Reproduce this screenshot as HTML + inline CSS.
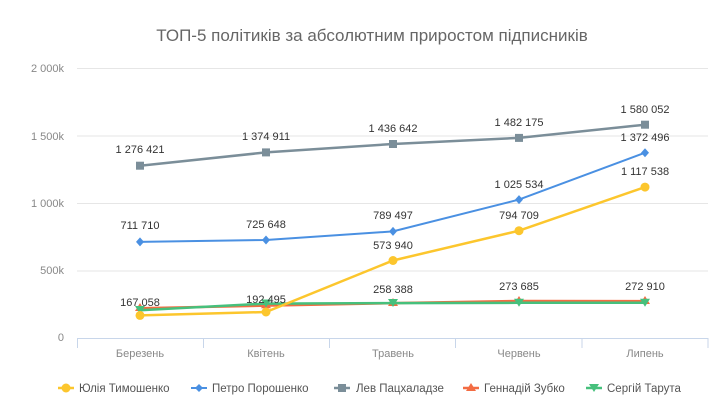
<!DOCTYPE html>
<html><head><meta charset="utf-8"><style>
html,body{margin:0;padding:0;background:#fff;width:727px;height:412px;overflow:hidden}
svg{display:block;font-family:"Liberation Sans",sans-serif}
</style></head><body>
<svg width="727" height="412" viewBox="0 0 727 412">
<text x="372" y="41" text-anchor="middle" font-size="17" fill="#666">ТОП-5 політиків за абсолютним приростом підписників</text>
<g stroke="#e6e6e6" stroke-width="1">
<line x1="77" x2="708" y1="68.5" y2="68.5"/>
<line x1="77" x2="708" y1="136" y2="136"/>
<line x1="77" x2="708" y1="203.5" y2="203.5"/>
<line x1="77" x2="708" y1="271" y2="271"/>
</g>
<g stroke="#c8d6ea" stroke-width="1">
<line x1="77" x2="708" y1="338.5" y2="338.5"/>
<line x1="77.5" x2="77.5" y1="338" y2="348"/>
<line x1="203.5" x2="203.5" y1="338" y2="348"/>
<line x1="329.5" x2="329.5" y1="338" y2="348"/>
<line x1="455.5" x2="455.5" y1="338" y2="348"/>
<line x1="582" x2="582" y1="338" y2="348"/>
<line x1="708" x2="708" y1="338" y2="348"/>
</g>
<g font-size="11" fill="#888" text-anchor="end">
<text x="64" y="72">2 000k</text>
<text x="64" y="140">1 500k</text>
<text x="64" y="207">1 000k</text>
<text x="64" y="274">500k</text>
<text x="64" y="341">0</text>
</g>
<g font-size="11" fill="#888" text-anchor="middle">
<text x="140" y="357">Березень</text>
<text x="266" y="357">Квітень</text>
<text x="393" y="357">Травень</text>
<text x="519" y="357">Червень</text>
<text x="645" y="357">Липень</text>
</g>
<!-- Lev -->
<polyline fill="none" stroke="#7b8e99" stroke-width="2.5" points="140,165.7 266,152.4 393,144 519,137.9 645,124.7"/>
<g fill="#7b8e99"><rect x="136" y="161.7" width="8" height="8"/><rect x="262" y="148.4" width="8" height="8"/><rect x="389" y="140" width="8" height="8"/><rect x="515" y="133.9" width="8" height="8"/><rect x="641" y="120.7" width="8" height="8"/></g>
<!-- Poroshenko -->
<polyline fill="none" stroke="#4a90e2" stroke-width="2" points="140,241.9 266,240 393,231.4 519,199.6 645,152.7"/>
<g fill="#4a90e2"><path d="M140,237.4l4,4.5l-4,4.5l-4,-4.5z"/><path d="M266,235.5l4,4.5l-4,4.5l-4,-4.5z"/><path d="M393,226.9l4,4.5l-4,4.5l-4,-4.5z"/><path d="M519,195.1l4,4.5l-4,4.5l-4,-4.5z"/><path d="M645,148.2l4,4.5l-4,4.5l-4,-4.5z"/></g>
<!-- Zubko -->
<polyline fill="none" stroke="#f36c43" stroke-width="2.5" points="140,308.3 266,305.6 393,303.1 519,301 645,301.1"/>
<g fill="#f36c43"><path d="M140,303l5,8h-10z"/><path d="M266,300.3l5,8h-10z"/><path d="M393,298l5,8h-10z"/><path d="M519,296l5,8h-10z"/><path d="M645,296l5,8h-10z"/></g>
<!-- Taruta -->
<polyline fill="none" stroke="#46c07c" stroke-width="2.5" points="140,310.3 266,303.6 393,303.1 519,302.8 645,302.8"/>
<g fill="#46c07c"><path d="M135,306h10l-5,8z"/><path d="M261,299.5h10l-5,8z"/><path d="M388,299h10l-5,8z"/><path d="M514,298.7h10l-5,8z"/><path d="M640,298.7h10l-5,8z"/></g>
<!-- Yulia -->
<polyline fill="none" stroke="#fcc62d" stroke-width="2.5" points="140,315.4 266,312 393,260.5 519,230.7 645,187.1"/>
<g fill="#fcc62d"><circle cx="140" cy="315.4" r="4.5"/><circle cx="266" cy="312" r="4.5"/><circle cx="393" cy="260.5" r="4.5"/><circle cx="519" cy="230.7" r="4.5"/><circle cx="645" cy="187.1" r="4.5"/></g>
<g font-size="11" fill="#333" text-anchor="middle">
<text x="140" y="153">1 276 421</text>
<text x="266" y="140">1 374 911</text>
<text x="393" y="132">1 436 642</text>
<text x="519" y="126">1 482 175</text>
<text x="645" y="113">1 580 052</text>
<text x="140" y="229">711 710</text>
<text x="266" y="228">725 648</text>
<text x="393" y="219">789 497</text>
<text x="519" y="188">1 025 534</text>
<text x="645" y="141">1 372 496</text>
<text x="393" y="249">573 940</text>
<text x="519" y="219">794 709</text>
<text x="645" y="175">1 117 538</text>
<text x="140" y="306">167 058</text>
<text x="266" y="303">192 495</text>
<text x="393" y="293">258 388</text>
<text x="519" y="290">273 685</text>
<text x="645" y="290">272 910</text>
</g>
<g font-size="11.5" fill="#555">
<line x1="58" x2="74" y1="388" y2="388" stroke="#fcc62d" stroke-width="2.5"/><circle cx="66" cy="388" r="4.5" fill="#fcc62d"/>
<text x="79" y="392">Юлія Тимошенко</text>
<line x1="191" x2="207" y1="388" y2="388" stroke="#4a90e2" stroke-width="2"/><path d="M199,384l4,4l-4,4l-4,-4z" fill="#4a90e2"/>
<text x="212" y="392">Петро Порошенко</text>
<line x1="334" x2="350" y1="388" y2="388" stroke="#7b8e99" stroke-width="2.5"/><rect x="338" y="384" width="8" height="8" fill="#7b8e99"/>
<text x="356" y="392">Лев Пацхаладзе</text>
<line x1="463" x2="479" y1="388" y2="388" stroke="#f36c43" stroke-width="2.5"/><path d="M471,383l5,8h-10z" fill="#f36c43"/>
<text x="484" y="392">Геннадій Зубко</text>
<line x1="586" x2="602" y1="388" y2="388" stroke="#46c07c" stroke-width="2.5"/><path d="M589,384h10l-5,8z" fill="#46c07c"/>
<text x="607" y="392">Сергій Тарута</text>
</g>
</svg>
</body></html>
